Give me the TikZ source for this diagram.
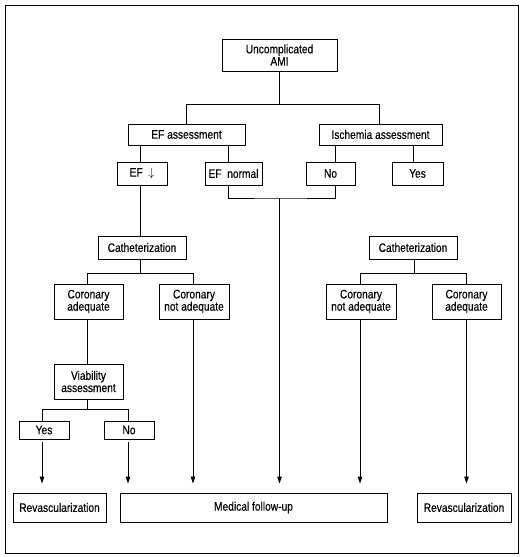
\documentclass[tikz,border=0pt]{standalone}
\usepackage{fontspec}
\setmainfont{Liberation Sans}[FakeStretch=0.83,FakeBold=0.3]
\usetikzlibrary{arrows.meta}
\begin{document}
\begin{tikzpicture}[x=1pt,y=-1pt,
  box/.style={draw, line width=0.9pt, inner sep=0pt, align=center,
    font=\fontsize{12.3}{12.3}\selectfont},
  conn/.style={line width=0.9pt},
  arr/.style={line width=0.9pt, -{Triangle[length=7pt,width=4.5pt]}, shorten >=9pt}]
\useasboundingbox (0,0) rectangle (522,557);
\draw[line width=1pt] (5.5,5.5) rectangle (518,553);

\node[box, minimum width=115, minimum height=32] (ami) at (279.5,55) {Uncomplicated\\AMI};
\node[box, minimum width=117, minimum height=21] (efa) at (186.5,134.5) {EF assessment};
\node[box, minimum width=123, minimum height=21] (isa) at (380.5,134.5) {Ischemia assessment};
\node[box, minimum width=50, minimum height=23] (efd) at (142,173.5) {EF~ $\downarrow$};
\node[box, minimum width=57, minimum height=23] (efn) at (233.5,173.5) {EF~~normal};
\node[box, minimum width=49, minimum height=23] (no1) at (330.5,173.5) {No};
\node[box, minimum width=51, minimum height=23] (yes1) at (417.5,173.5) {Yes};
\node[box, minimum width=88, minimum height=23] (cathL) at (142,247.5) {Catheterization};
\node[box, minimum width=88, minimum height=23] (cathR) at (413,247.5) {Catheterization};
\node[box, minimum width=69, minimum height=35] (caL) at (88.5,301.5) {Coronary\\adequate};
\node[box, minimum width=70, minimum height=35] (cnaL) at (194,301.5) {Coronary\\not adequate};
\node[box, minimum width=70, minimum height=35] (cnaR) at (361,301.5) {Coronary\\not adequate};
\node[box, minimum width=69, minimum height=35] (caR) at (466.5,301.5) {Coronary\\adequate};
\node[box, minimum width=69, minimum height=35] (via) at (88.5,381.5) {Viability\\assessment};
\node[box, minimum width=50, minimum height=18] (yes2) at (44,430) {Yes};
\node[box, minimum width=50, minimum height=18] (no2) at (129,430) {No};
\node[box, minimum width=93, minimum height=29] (revL) at (59.5,507.5) {Revascularization};
\node[box, minimum width=267, minimum height=29] (med) at (253.5,507.5) {Medical follow-up};
\node[box, minimum width=94, minimum height=29] (revR) at (464,507.5) {Revascularization};

\coordinate (j1) at (279.5,104);
\coordinate (j2) at (279.5,198);
\coordinate (j3) at (140,273);
\coordinate (j4) at (414,273);
\coordinate (j5) at (87,409);

% top tree
\draw[conn] (ami.south) -- (j1);
\draw[conn] (j1) -| (efa.north);
\draw[conn] (j1) -| ([xshift=-1.5pt]isa.north);
\draw[conn] ([xshift=-2pt]efd.north |- efa.south) -- ([xshift=-2pt]efd.north);
\draw[conn] ([xshift=-5.5pt]efn.north |- efa.south) -- ([xshift=-5.5pt]efn.north);
\draw[conn] ([xshift=4.5pt]no1.north |- isa.south) -- ([xshift=4.5pt]no1.north);
\draw[conn] ([xshift=-4.5pt]yes1.north |- isa.south) -- ([xshift=-4.5pt]yes1.north);
% EF normal / No merge
\draw[conn] ([xshift=-5.5pt]efn.south) |- (j2) -| ([xshift=4.5pt]no1.south);
\draw[arr] (j2) -- (j2 |- med.north);
% left catheterization branch
\draw[conn] ([xshift=-2pt]efd.south) -- ([xshift=-2pt]cathL.north);
\draw[conn] ([xshift=-2pt]cathL.south) -- (j3);
\draw[conn] (j3) -| ([xshift=-1.5pt]caL.north);
\draw[conn] (j3) -| ([xshift=-1pt]cnaL.north);
% right catheterization branch
\draw[conn] ([xshift=-4.5pt]yes1.south) -- (yes1.south -| cathR.north);
\draw[conn] ([xshift=1pt]cathR.south) -- (j4);
\draw[conn] (j4) -| ([xshift=-1pt]cnaR.north);
\draw[conn] (j4) -| (caR.north);
% viability
\draw[conn] ([xshift=-1.5pt]caL.south) -- ([xshift=-1.5pt]via.north);
\draw[conn] ([xshift=-1.5pt]via.south) -- (j5);
\draw[conn] (j5) -| ([xshift=-2pt]yes2.north);
\draw[conn] (j5) -| ([xshift=-1pt]no2.north);
% arrows to outcomes
\draw[arr, shorten <=3pt] ([xshift=-2pt]yes2.south) -- ([xshift=-2pt]yes2.south |- revL.north);
\draw[arr, shorten <=3pt] ([xshift=-1pt]no2.south) -- ([xshift=-1pt]no2.south |- med.north);
\draw[arr] ([xshift=-1pt]cnaL.south) -- ([xshift=-1pt]cnaL.south |- med.north);
\draw[arr] ([xshift=-1pt]cnaR.south) -- ([xshift=-1pt]cnaR.south |- med.north);
\draw[arr] (caR.south) -- (caR.south |- revR.north);
\end{tikzpicture}
\end{document}
